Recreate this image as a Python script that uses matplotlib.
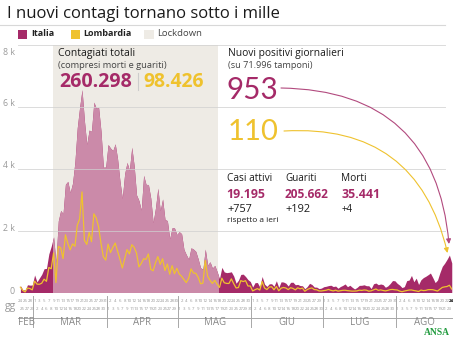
import matplotlib
matplotlib.use('Agg')
import matplotlib.pyplot as plt
from matplotlib.patches import FancyArrowPatch, Rectangle
from matplotlib.transforms import IdentityTransform
import numpy as np
import pandas as pd

# ---------------- data ----------------
start_date = '2020-02-24'
end_date = '2020-08-24'
italia = [
    221, 93, 78, 250, 238, 240,
    566, 342, 466, 587, 769, 778, 1247, 1492, 1797, 977,
    2313, 2651, 2547, 3497, 3590, 3233, 3526, 4207, 5322, 5986,
    6557, 5560, 4789, 5249, 5210, 6153, 5959, 5974, 5217, 4050, 4053,
    4782, 4668, 4585, 4805, 4316, 3599, 3039, 3836, 4204, 3951,
    4694, 4092, 3153, 2972, 2667, 3786, 3493, 3491, 3047, 2256,
    2729, 3370, 2646, 3021, 2357, 2324, 1739, 2091, 2086, 1872,
    1965, 1900, 1389, 1221, 1075, 1444, 1401, 1327, 1083, 802,
    744, 1402, 888, 992, 789, 875, 675, 451, 813, 665,
    642, 652, 669, 531, 300, 397, 584, 593, 516, 416, 355,
    178, 318, 321, 177, 518, 270, 197, 280, 283, 202,
    379, 163, 346, 338, 301, 210, 328, 333, 251, 262,
    224, 218, 122, 190, 296, 259, 175, 174, 126, 142,
    187, 201, 223, 235, 192, 208, 138, 193, 229, 276,
    188, 234, 169, 114, 162, 230, 233, 249, 219, 218,
    129, 282, 306, 252, 275, 255, 170, 212, 289, 386, 379,
    295, 239, 159, 190, 384, 402, 552, 347, 463, 259,
    412, 481, 523, 574, 629, 479, 320, 403, 642, 845,
    947, 1071, 1210, 953,
]
lombardia = [
    172, 68, 18, 145, 128, 84,
    369, 270, 266, 300, 431, 361, 808, 769, 1280, 322,
    1489, 1445, 1095, 1865, 1587, 1377, 1571, 1493, 2171, 2380,
    3251, 1691, 1555, 1942, 1643, 2543, 2409, 2117, 1592, 1154, 1047,
    1565, 1292, 1455, 1598, 1337, 1079, 791, 1089, 1388, 1246,
    1544, 1460, 1274, 827, 941, 1091, 1073, 1246, 751, 701,
    960, 1161, 908, 1091, 710, 920, 590, 869, 605, 783,
    598, 526, 417, 320, 464, 764, 632, 620, 493, 282,
    302, 1033, 522, 394, 293, 393, 269, 162, 462, 316,
    294, 292, 441, 285, 148, 159, 384, 354, 382, 210, 210,
    50, 91, 126, 79, 354, 147, 94, 176, 186, 88,
    195, 56, 140, 162, 145, 93, 154, 132, 84, 152,
    119, 143, 40, 94, 130, 148, 94, 88, 51, 50,
    62, 73, 99, 70, 51, 76, 44, 57, 70, 73,
    60, 52, 44, 46, 52, 75, 67, 82, 75, 42,
    55, 86, 114, 69, 85, 66, 51, 69, 93, 99, 87,
    81, 46, 25, 47, 65, 80, 82, 64, 51, 32,
    79, 62, 68, 90, 93, 90, 68, 47, 105, 165,
    182, 194, 235, 110,
]
lockdown = ('2020-03-09', '2020-05-18')
month_names = ['FEB', 'MAR', 'APR', 'MAG', 'GIU', 'LUG', 'AGO']
y_ticks = [0, 2000, 4000, 6000, 8000]
y_tick_labels = ['0', '2 k', '4 k', '6 k', '8 k']

title = 'I nuovi contagi tornano sotto i mille'
totali_italia = '260.298'
totali_lombardia = '98.426'
nuovi_italia = '953'
nuovi_lombardia = '110'
tamponi = '(su 71.996 tamponi)'
stats_labels = ['Casi attivi', 'Guariti', 'Morti']
stats_values = ['19.195', '205.662', '35.441']
stats_delta = ['+757', '+192', '+4']

# ---------------- style ----------------
MAG = '#a52a68'
PINK = '#cb8aa9'
YEL = '#efc22e'
BEIGE = '#eeebe5'
GRID = '#d0d0d0'
FONT = ['Open Sans', 'DejaVu Sans']
plt.rcParams['font.family'] = FONT

W, H = 457, 341
fig = plt.figure(figsize=(W / 100, H / 100), dpi=100)
renderer = fig.canvas.get_renderer()


def fx(x):
    return x / W


def fy(y):
    return 1 - y / H


def txt(x, y, s, w=None, size=7, **kw):
    kw.setdefault('va', 'center')
    kw.setdefault('ha', 'left')
    t = fig.text(fx(x), fy(y), s, fontsize=size, **kw)
    if w is not None:
        bb = t.get_window_extent(renderer)
        t.set_fontsize(size * w / bb.width)
    return t


dates = pd.date_range(start_date, end_date, freq='D')
xd = np.arange(len(dates))
ita = np.array(italia, dtype=float)
lom = np.array(lombardia, dtype=float)

ax = fig.add_axes([fx(18), fy(292.5), fx(452) - fx(18), fy(45) - fy(292.5)])
ax.set_xlim(-1.01, 182.1)
ax.set_ylim(0, 8000)
ax.axis('off')

ls = dates.get_loc(pd.Timestamp(lockdown[0])) - 0.1
le = dates.get_loc(pd.Timestamp(lockdown[1])) - 0.6
ax.axvspan(ls, le, color=BEIGE, lw=0, zorder=0)
ax.fill_between(xd, ita, color=MAG, lw=0, zorder=1)
pk = ax.fill_between(xd, ita, color=PINK, lw=0, zorder=2)
pk.set_clip_path(Rectangle((ls, 0), le - ls, 8000, transform=ax.transData))
gx = (445 - 18) / (452 - 18)
for v in y_ticks[1:]:
    ax.axhline(v, xmin=0, xmax=gx, color=GRID, lw=0.7, alpha=0.75, zorder=3)
ax.plot(xd, lom, color=YEL, lw=0.9, zorder=4, solid_joinstyle='round')

# y labels
ylab_pos = {0: 291, 2000: 228.5, 4000: 166, 6000: 103.5, 8000: 52.5}
for v, lab in zip(y_ticks, y_tick_labels):
    txt(15, ylab_pos[v], lab, size=6.3, color='#9a9a9a', ha='right')

# x day labels
tr = ax.get_xaxis_transform()


def yax(ypx):
    return (292.5 - ypx) / (292.5 - 45)


for i, d in enumerate(dates):
    top = i % 2 == 0
    last = i == len(dates) - 1
    ax.text(i, yax(300.5 if top else 309.5), str(d.day), transform=tr,
            ha='center', va='center', fontsize=3.2,
            color='#111111' if last else '#9a9a9a',
            fontweight='bold' if last else 'normal', clip_on=False)

txt(5, 307, 'gg', size=7.5, color='#9a9a9a')

# month separators and labels
months = dates.month.values
bounds = [i for i in range(1, len(dates)) if months[i] != months[i - 1]]
for b in bounds:
    ax.plot([b - 0.5, b - 0.5], [yax(296), yax(327)], transform=tr,
            color='#a8a8a8', lw=0.7, clip_on=False)
ax.plot([-1.01, 182.1], [yax(317.5), yax(317.5)], transform=tr,
        color='#a8a8a8', lw=0.7, clip_on=False)
starts = [0] + bounds
ends = bounds + [len(dates)]
for name, s0, e0 in zip(month_names, starts, ends):
    ax.text((s0 + e0 - 1) / 2, yax(322.5), name, transform=tr, ha='center',
            va='center', fontsize=7, color='#8a8a8a', clip_on=False)

# title & legend
txt(7, 13.5, title, w=273, size=12, color='#1a1a1a')
fig.add_artist(plt.Line2D([0, fx(445)], [fy(25), fy(25)], color='#d8d8d8', lw=0.8))
for (x0, x1), col in [((18.3, 27.3), MAG), ((70.5, 80), YEL), ((143.5, 153.5), BEIGE)]:
    fig.add_artist(Rectangle((fx(x0), fy(39)), fx(x1) - fx(x0), fy(30) - fy(39),
                             color=col, lw=0, transform=fig.transFigure))
txt(31.5, 34, 'Italia', w=23.5, size=7, fontweight='bold', color='#222222')
txt(83.5, 34, 'Lombardia', w=48.5, size=7, fontweight='bold', color='#222222')
txt(157, 34, 'Lockdown', w=45, size=7, color='#444444')

# Contagiati totali block
txt(58, 53.5, 'Contagiati totali', w=77, size=8, color='#1a1a1a')
txt(58, 65.5, '(compresi morti e guariti)', w=109, size=6.5, color='#444444')
txt(59, 82, totali_italia, w=73, size=15, fontweight='bold', color=MAG)
txt(143, 82, totali_lombardia, w=61, size=15, fontweight='bold', color=YEL)
fig.add_artist(plt.Line2D([fx(137.5), fx(137.5)], [fy(73), fy(90)], color='#cccccc', lw=0.8))

# Nuovi positivi block
txt(228, 53.5, 'Nuovi positivi giornalieri', w=117, size=8, color='#1a1a1a')
txt(228, 66, tamponi, w=84, size=6.5, color='#444444')
txt(226, 90, nuovi_italia, w=52, size=25, fontweight='normal', color=MAG,
    family=['Lato', 'DejaVu Sans'])
txt(228, 131.5, nuovi_lombardia, w=51, size=25, fontweight='normal', color=YEL,
    family=['Lato', 'DejaVu Sans'])

# stats
sx = [226.7, 285, 341]
lw_ = [45.5, 31.7, 25.7]
vw_ = [38.5, 44.3, 39]
dw_ = [25, 25, 11]
for x0, lab, val, dl, a, b, c in zip(sx, stats_labels, stats_values, stats_delta, lw_, vw_, dw_):
    txt(x0, 178.5, lab, w=a, size=8, color='#1a1a1a')
    txt(x0, 194, val, w=b, size=9, fontweight='bold', color=MAG)
    txt(x0 + 0.5, 209.5, dl, w=c, size=8, color='#1a1a1a')
txt(226.7, 220.7, 'rispetto a ieri', w=51.5, size=6, color='#1a1a1a')


# arrows (pixel coordinates)
def arrow(p0, p1, rad, col):
    a = FancyArrowPatch((p0[0], H - p0[1]), (p1[0], H - p1[1]),
                        transform=IdentityTransform(),
                        connectionstyle=f'arc3,rad={rad}', arrowstyle='-|>',
                        mutation_scale=7, color=col, lw=0.8,
                        shrinkA=0, shrinkB=0)
    fig.add_artist(a)


arrow((281, 88), (449, 244), -0.45, '#b24a7e')
arrow((284, 131), (447.5, 253), -0.42, YEL)

# ANSA logo
txt(437, 332.5, 'ANSA', w=26, size=8, ha='center', fontweight='bold',
    color='#1f9a3c', family=['Liberation Serif', 'DejaVu Serif'])

fig.savefig('out.png', dpi=100)
